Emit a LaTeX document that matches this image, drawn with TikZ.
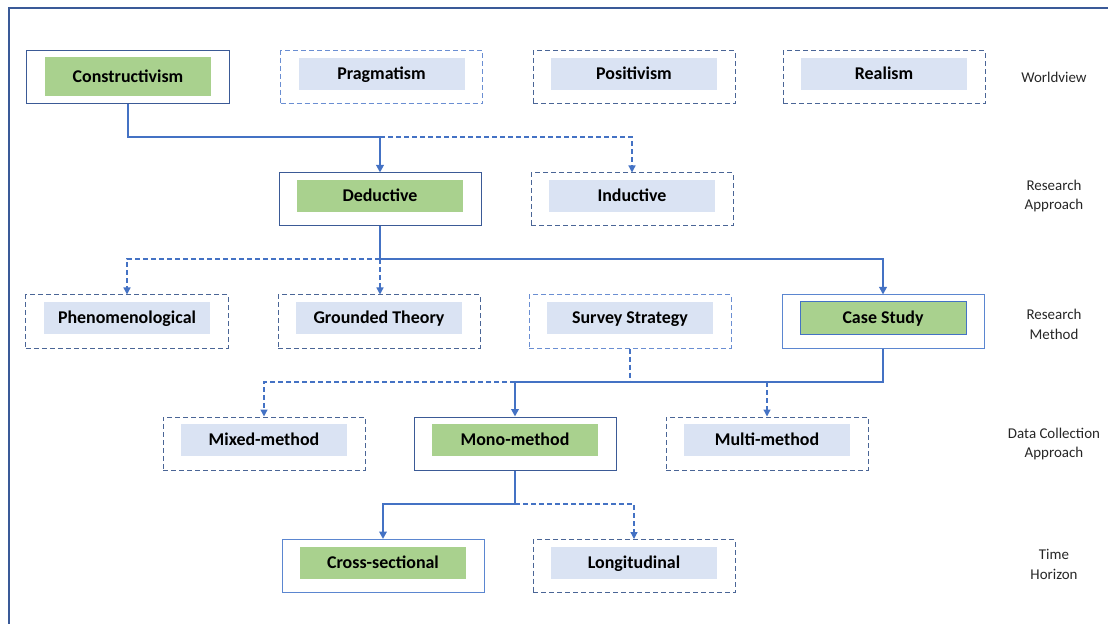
\documentclass[tikz,border=0pt]{standalone}
\usepackage{fontspec}
\setmainfont{Carlito}
\usetikzlibrary{arrows.meta}

\definecolor{greenf}{HTML}{A9D18E}
\definecolor{bluef}{HTML}{DAE3F3}
\definecolor{darkb}{HTML}{3B5A96}
\definecolor{lightb}{HTML}{5B86D0}
\definecolor{dashd}{HTML}{4A6596}
\definecolor{dashl}{HTML}{6A8ED2}
\definecolor{lineb}{HTML}{4472C4}
\definecolor{framec}{HTML}{3A5A98}

\tikzset{
  outer/.style={draw, minimum width=202bp, minimum height=53bp, inner sep=0pt, line width=1bp},
  chosen/.style={outer, draw=darkb},
  chosenl/.style={outer, draw=lightb},
  option/.style={outer, draw=dashd, dash pattern=on 5bp off 3bp},
  optionl/.style={outer, draw=dashl, dash pattern=on 5bp off 3bp},
  tag/.style={minimum width=166bp, minimum height=32bp, inner sep=0pt,
    text height=13bp, text depth=1.4bp, yshift=3.5bp,
    font=\bfseries\fontsize{18}{20}\selectfont, text=black},
  taggreen/.style={tag, fill=greenf},
  tagblue/.style={tag, fill=bluef},
  level/.style={align=center, font=\fontsize{15}{20}\selectfont, text=black!85},
  sline/.style={draw=lineb, line width=2.3bp, -{Triangle[width=7.5bp,length=7.5bp]}},
  dline/.style={draw=lineb, line width=1.3bp, dash pattern=on 5bp off 3bp, -{Triangle[width=7bp,length=7bp]}},
  dplain/.style={draw=lineb, line width=1.3bp, dash pattern=on 5bp off 3bp},
}

\begin{document}
\begin{tikzpicture}[x=1bp,y=-1bp]
\useasboundingbox (0,0) rectangle (1108,624);

% frame
\draw[framec, line width=1.5bp] (9,624) -- (9,8) -- (1108,8);

% worldview
\node[chosen]  (cons) at (128,77.5) {};
\node[taggreen, minimum height=39bp, yshift=-2.5bp] (consT) at (cons.center) {Constructivism};
\node[optionl] (prag) at (381.5,77.5) {};
\node[tagblue]  (pragT) at (prag.center) {Pragmatism};
\node[option]  (posi) at (634,77.5) {};
\node[tagblue]  (posiT) at (posi.center) {Positivism};
\node[option]  (real) at (884,77.5) {};
\node[tagblue]  (realT) at (real.center) {Realism};

% research approach
\node[chosen]  (ded) at (380,199.5) {};
\node[taggreen] (dedT) at (ded.center) {Deductive};
\node[option]  (ind) at (632,199.5) {};
\node[tagblue]  (indT) at (ind.center) {Inductive};

% research method
\node[option]  (phen) at (127,321.5) {};
\node[tagblue]  (phenT) at (phen.center) {Phenomenological};
\node[option]  (gt) at (379,321.5) {};
\node[tagblue]  (gtT) at (gt.center) {Grounded Theory};
\node[optionl] (surv) at (630,321.5) {};
\node[tagblue]  (survT) at (surv.center) {Survey Strategy};
\node[chosenl] (case) at (883,321.5) {};
\node[taggreen, draw=lineb, line width=1bp] (caseT) at (case.center) {Case Study};

% data collection approach
\node[option]  (mixed) at (264,443.5) {};
\node[tagblue]  (mixedT) at (mixed.center) {Mixed-method};
\node[chosen]  (mono) at (515,443.5) {};
\node[taggreen] (monoT) at (mono.center) {Mono-method};
\node[option]  (multi) at (767,443.5) {};
\node[tagblue]  (multiT) at (multi.center) {Multi-method};

% time horizon
\node[chosenl] (cross) at (383,566) {};
\node[taggreen] (crossT) at (cross.center) {Cross-sectional};
\node[option]  (long) at (634,566) {};
\node[tagblue]  (longT) at (long.center) {Longitudinal};

% level captions
\node[level] (lv1) at (1054,77) {Worldview};
\node[level] (lv2) at (1054,196) {Research\\Approach};
\node[level] (lv3) at (1054,324) {Research\\Method};
\node[level] (lv4) at (1054,444) {Data Collection\\Approach};
\node[level] (lv5) at (1054,564) {Time\\Horizon};

% junctions
\coordinate (j1) at (380,137);
\coordinate (j2) at (380,259);
\coordinate (j3) at (515,382);
\coordinate (j4) at (515,504);

% alternatives (dashed)
\draw[dline] (j1) -| (ind.north);
\draw[dline] (j2) -| (phen.north);
\draw[dline] (j2) -- (j2 |- gt.north);
\draw[dplain] (surv.south) -- (surv.south |- j3);
\draw[dline] (j3) -| (mixed.north);
\draw[dline] (multi.north |- j3) -- (multi.north);
\draw[dline] (j4) -| (long.north);

% selected path (solid)
\draw[sline] (cons.south) |- (j1) -- (ded.north);
\draw[sline] (ded.south) -- (j2) -| (case.north);
\draw[sline] (case.south) |- (j3) -- (mono.north);
\draw[sline] (mono.south) -- (j4) -| (cross.north);
\end{tikzpicture}
\end{document}
